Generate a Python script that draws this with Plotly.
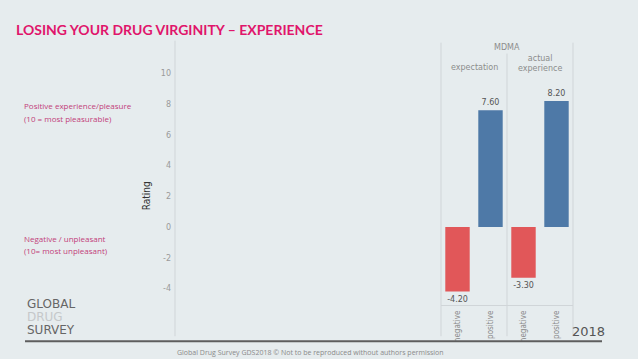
import plotly.graph_objects as go

# ---- data ----
categories = ["negative", "positive"]
expectation = [-4.20, 7.60]
actual_experience = [-3.30, 8.20]
panel_titles = ["expectation", "actual<br>experience"]
drug = "MDMA"
y_ticks = [-4, -2, 0, 2, 4, 6, 8, 10]
y_tick_text = ["-4", "-2", "0", "2", "4", "6", "8", "10"]

W, H = 638, 359
BG = "#E6ECEE"
RED = "#E15759"
BLUE = "#4E79A7"
PINK = "#E0156B"
LINE = "#D0D5D8"
NARROW = "Liberation Sans Narrow, DejaVu Sans Condensed"


def px(x):
    return x / W


def py(y):
    return 1 - y / H


fig = go.Figure()
for vals, name in [(expectation, "x"), (actual_experience, "x2")]:
    fig.add_trace(go.Bar(
        x=categories, y=vals, xaxis=name, yaxis="y",
        marker=dict(color=[RED, BLUE], line=dict(width=0)),
        width=0.74,
        text=[f"{v:.2f}" for v in vals], textposition="outside",
        textfont=dict(family="DejaVu Sans", size=8, color="#555555"),
        cliponaxis=False, showlegend=False, hoverinfo="skip",
    ))

y_dom = [py(305), py(70)]
xtick_font = dict(family=NARROW, size=8, color="#888888")
fig.update_layout(
    width=W, height=H, margin=dict(l=0, r=0, t=0, b=0),
    paper_bgcolor=BG, plot_bgcolor=BG,
    yaxis=dict(domain=y_dom, range=[-5.1, 10.06], anchor="free", position=px(175),
               tickvals=y_ticks, ticktext=y_tick_text, showgrid=False, zeroline=False,
               showline=False, ticks="",
               tickfont=dict(family="DejaVu Sans", size=8, color="#9A9A9A"),
               ticklabelstandoff=4),
    xaxis=dict(domain=[px(441), px(507)], anchor="y", tickangle=-90, showgrid=False,
               showline=True, linecolor=LINE, linewidth=1, ticks="", tickfont=xtick_font,
               ticklabelstandoff=1),
    xaxis2=dict(domain=[px(507), px(573)], anchor="y", tickangle=-90, showgrid=False,
                showline=True, linecolor=LINE, linewidth=1, ticks="", tickfont=xtick_font,
                ticklabelstandoff=1),
)

shapes = []
for x0, ytop in [(175, 38), (441, 40), (507, 51), (573, 40)]:
    shapes.append(dict(type="line", xref="paper", yref="paper", x0=px(x0), x1=px(x0),
                       y0=py(336), y1=py(ytop), line=dict(color=LINE, width=1)))
shapes.append(dict(type="line", xref="paper", yref="paper", x0=px(25), x1=px(602),
                   y0=py(341), y1=py(341), line=dict(color="#5E5E5E", width=2)))
fig.update_layout(shapes=shapes)

ann = []
hdr_font = dict(family="DejaVu Sans", size=8, color="#8C8C8C")
ann.append(dict(x=px(507), y=py(45), text=drug, font=hdr_font))
ann.append(dict(x=px(474), y=py(65), text=panel_titles[0], font=hdr_font))
ann.append(dict(x=px(540), y=py(61), text=panel_titles[1], font=hdr_font))
ann.append(dict(x=px(146), y=py(195), text="Rating", textangle=-90,
                font=dict(family=NARROW, size=10, color="#333333")))
ann.append(dict(x=px(14), y=py(27), text="<b>LOSING YOUR DRUG VIRGINITY – EXPERIENCE</b>",
                xanchor="left", font=dict(family="Lato", size=14, color=PINK)))
lab_font = dict(family="Open Sans", size=8, color="#C2407A")
for txt, yy in [("Positive experience/pleasure", 103), ("(10 = most pleasurable)", 116),
                ("Negative / unpleasant", 237), ("(10= most unpleasant)", 250)]:
    ann.append(dict(x=px(22), y=py(yy), xanchor="left", text=txt, font=lab_font))
ann.append(dict(x=px(25), y=py(304), xanchor="left", text="GLOBAL",
                font=dict(family="DejaVu Sans", size=12, color="#666666")))
ann.append(dict(x=px(25), y=py(317), xanchor="left", text="DRUG",
                font=dict(family="DejaVu Sans", size=12, color="#C5C8CA")))
ann.append(dict(x=px(25), y=py(330), xanchor="left", text="SURVEY",
                font=dict(family="DejaVu Sans", size=12, color="#666666")))
ann.append(dict(x=px(607), y=py(331), xanchor="right", text="2018",
                font=dict(family="DejaVu Sans", size=13, color="#555555")))
ann.append(dict(x=px(175), y=py(352), xanchor="left",
                text="Global Drug Survey GDS2018 © Not to be reproduced without authors permission",
                font=dict(family="Open Sans", size=7, color="#8A8A8A")))
for a in ann:
    a.setdefault("xref", "paper")
    a.setdefault("yref", "paper")
    a.setdefault("showarrow", False)
    a.setdefault("xanchor", "center")
    a.setdefault("yanchor", "middle")
fig.update_layout(annotations=ann)

fig.write_html("out.html", config={"displayModeBar": False},
               post_script="document.body.style.margin='0';")
